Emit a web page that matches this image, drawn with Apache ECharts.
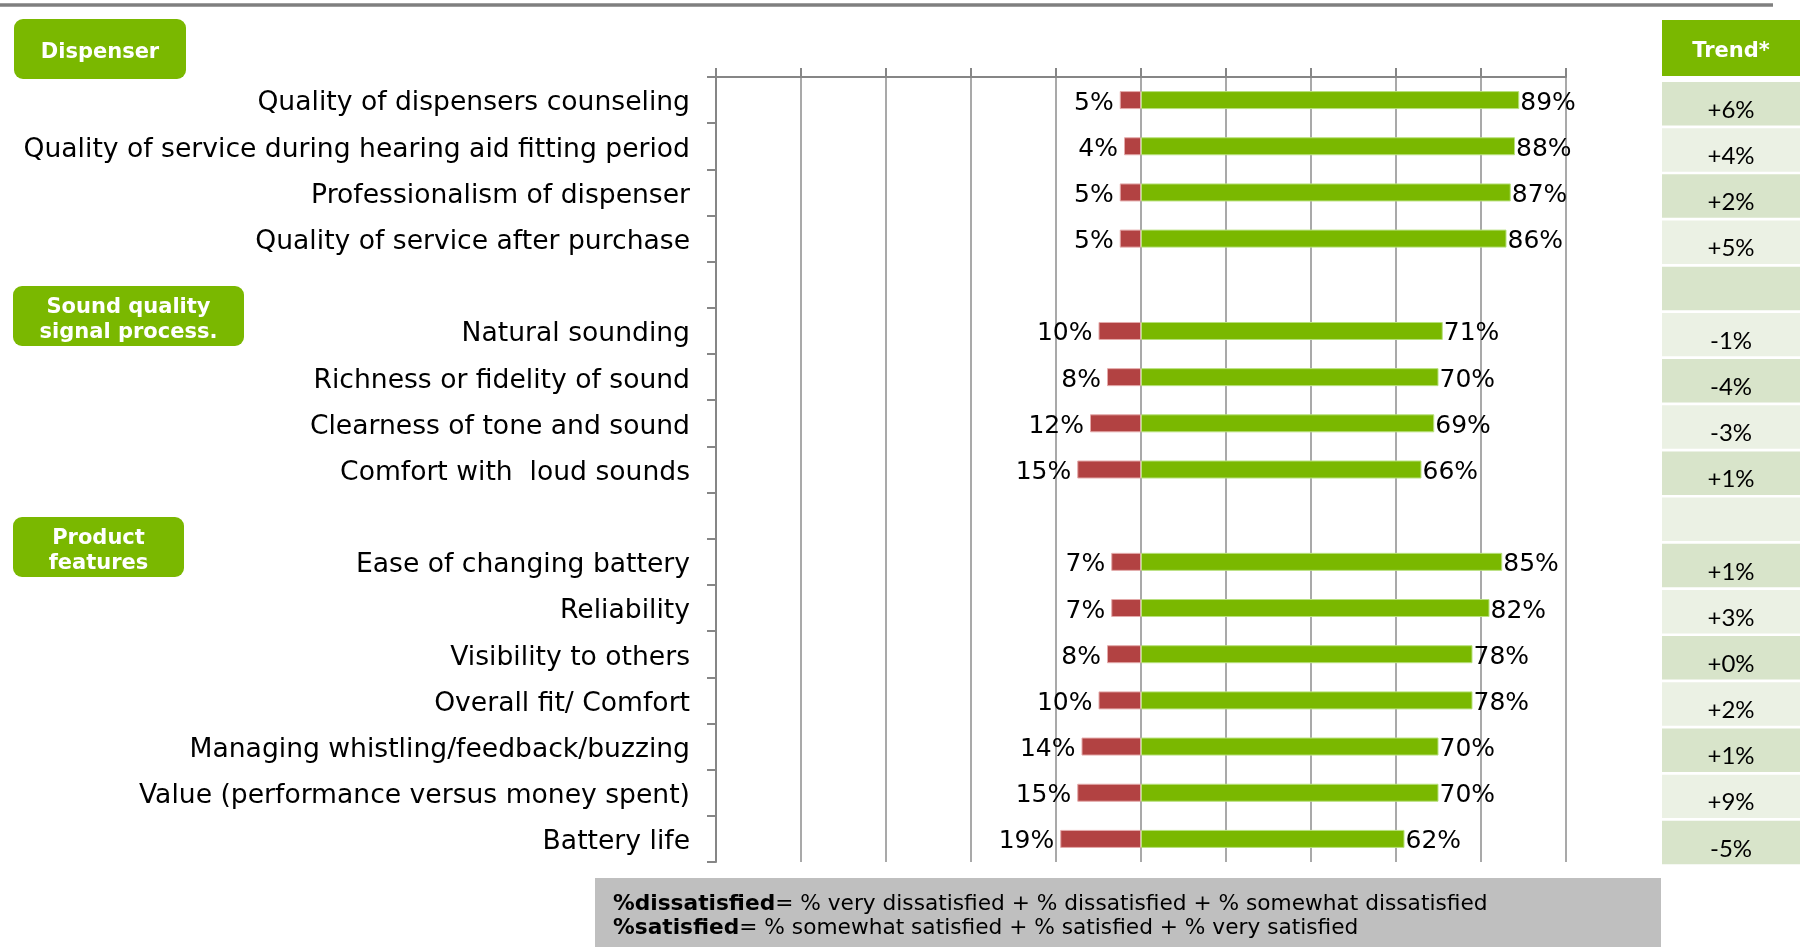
<!DOCTYPE html>
<html>
<head>
<meta charset="utf-8">
<script src="https://cdn.jsdelivr.net/npm/echarts@6/dist/echarts.min.js"></script>
<style>
html,body{margin:0;padding:0;background:#fff;}
#chart{width:1800px;height:947px;}
</style>
</head>
<body>
<div id="chart"></div>
<script>
const categories = [
  'Quality of dispensers counseling',
  'Quality of service during hearing aid fitting period',
  'Professionalism of dispenser',
  'Quality of service after purchase',
  ' ',
  'Natural sounding',
  'Richness or fidelity of sound',
  'Clearness of tone and sound',
  'Comfort with  loud sounds',
  '  ',
  'Ease of changing battery',
  'Reliability',
  'Visibility to others',
  'Overall fit/ Comfort',
  'Managing whistling/feedback/buzzing',
  'Value (performance versus money spent)',
  'Battery life'
];
const dissatisfied = [5, 4, 5, 5, null, 10, 8, 12, 15, null, 7, 7, 8, 10, 14, 15, 19];
const satisfied = [89, 88, 87, 86, null, 71, 70, 69, 66, null, 85, 82, 78, 78, 70, 70, 62];
const trend = [6, 4, 2, 5, null, -1, -4, -3, 1, null, 1, 3, 0, 2, 1, 9, -5];
const groupLabels = ['Dispenser', 'Sound quality\nsignal process.', 'Product\nfeatures'];
const trendHeader = 'Trend*';
const noteBold = ['%dissatisfied', '%satisfied'];
const noteRest = ['= % very dissatisfied + % dissatisfied + % somewhat dissatisfied',
                  '= % somewhat satisfied + % satisfied + % very satisfied'];

const GREEN = '#7AB800';
const RED = '#B24242';
const AXIS = '#868686';
const FONT = 'DejaVu Sans';

const chart = echarts.init(document.getElementById('chart'));

function box(x, y, w, h, text) {
  return {
    type: 'rect',
    shape: {x: x, y: y, width: w, height: h, r: 9},
    style: {fill: GREEN},
    textContent: {
      style: {text: text, fill: '#fff', font: 'bold 21px "DejaVu Sans"', align: 'center', lineHeight: 25}
    },
    textConfig: {position: 'inside', offset: [0, 4]}
  };
}

function fmtTrend(v) {
  if (v === null || v === undefined) return '';
  return (v >= 0 ? '+' : '') + v + '%';
}

const noteRich = {
  b: {font: 'bold 21.7px "DejaVu Sans"', fill: '#000'},
  r: {font: '21.7px "DejaVu Sans"', fill: '#000'}
};

const option = {
  animation: false,
  backgroundColor: '#ffffff',
  graphic: [
    {type: 'line', shape: {x1: 0, y1: 5, x2: 1773, y2: 5}, style: {stroke: '#7f7f7f', lineWidth: 3.5}},
    box(14, 19, 172, 60, groupLabels[0]),
    box(13, 286, 231, 60, groupLabels[1]),
    box(13, 517, 171, 60, groupLabels[2]),
    {
      type: 'rect', shape: {x: 1662, y: 20, width: 138, height: 56},
      style: {fill: GREEN},
      textContent: {style: {text: trendHeader, fill: '#fff', font: 'bold 21px "DejaVu Sans"', align: 'center'}},
      textConfig: {position: 'inside', offset: [0, 4]}
    },
    {type: 'rect', shape: {x: 595, y: 878, width: 1066, height: 69}, style: {fill: '#BFBFBF'}},
    {
      type: 'text', x: 613, y: 904,
      style: {
        text: '{b|' + noteBold[0] + '}{r|' + noteRest[0] + '}',
        verticalAlign: 'middle', align: 'left', rich: noteRich
      }
    },
    {
      type: 'text', x: 613, y: 928,
      style: {
        text: '{b|' + noteBold[1] + '}{r|' + noteRest[1] + '}',
        verticalAlign: 'middle', align: 'left', rich: noteRich
      }
    }
  ],
  grid: [
    {left: 716, right: 234, top: 77, bottom: 85, containLabel: false},
    {left: 1662, right: 0, top: 81, bottom: 81, containLabel: false}
  ],
  xAxis: [
    {
      type: 'value', gridIndex: 0, position: 'top', min: -100, max: 100, interval: 20,
      axisLine: {show: true, onZero: false, lineStyle: {color: AXIS, width: 2}},
      axisTick: {show: true, length: 9, lineStyle: {color: AXIS, width: 2}},
      axisLabel: {show: false},
      splitLine: {show: true, lineStyle: {color: '#8c8c8c', width: 1.5}}
    },
    {type: 'value', gridIndex: 1, min: 0, max: 1, show: false}
  ],
  yAxis: [
    {
      type: 'category', gridIndex: 0, data: categories, inverse: true,
      axisLine: {show: true, onZero: false, lineStyle: {color: AXIS, width: 2}},
      axisTick: {show: true, length: 9, lineStyle: {color: AXIS, width: 2}},
      axisLabel: {
        fontSize: 26.6, fontFamily: FONT, color: '#000', margin: 26,
        formatter: v => '{a|' + v + '}',
        rich: {a: {fontSize: 26.6, fontFamily: FONT, color: '#000', padding: [7, 0, 0, 0]}}
      },
      splitLine: {show: false}
    },
    {type: 'category', gridIndex: 1, data: categories, inverse: true, show: false}
  ],
  series: [
    {
      name: 'dissatisfied', type: 'bar', xAxisIndex: 0, yAxisIndex: 0,
      data: dissatisfied.map(v => v === null ? '-' : -v),
      barWidth: 18, barGap: '-100%',
      itemStyle: {color: RED, borderColor: '#E3AAAA', borderWidth: 1},
      label: {
        show: true, position: 'left', distance: 6, offset: [0, 3],
        fontFamily: FONT, fontSize: 25, color: '#000',
        formatter: p => Math.abs(p.value) + '%'
      }
    },
    {
      name: 'satisfied', type: 'bar', xAxisIndex: 0, yAxisIndex: 0,
      data: satisfied.map(v => v === null ? '-' : v),
      barWidth: 18, barGap: '-100%',
      itemStyle: {color: GREEN, borderColor: '#B8E07E', borderWidth: 1},
      label: {
        show: true, position: 'right', distance: 1, offset: [0, 3],
        fontFamily: FONT, fontSize: 25, color: '#000',
        formatter: p => p.value + '%'
      }
    },
    {
      name: 'trend', type: 'custom', xAxisIndex: 1, yAxisIndex: 1,
      data: trend.map((v, i) => [0, i]),
      encode: {x: 0, y: 1},
      renderItem: function (params, api) {
        const cs = params.coordSys;
        const c = api.coord([0, api.value(1)]);
        const h = api.size([0, 1])[1];
        const i = params.dataIndex;
        return {
          type: 'group',
          children: [
            {
              type: 'rect',
              shape: {x: cs.x, y: c[1] - h / 2 + 1, width: cs.width, height: h - 2.7},
              style: {fill: i % 2 === 0 ? '#D8E4CA' : '#EBF1E4'}
            },
            {
              type: 'text',
              style: {
                x: cs.x + cs.width / 2, y: c[1] + 6,
                text: fmtTrend(trend[i]),
                font: '24px Lato', fill: '#000',
                align: 'center', verticalAlign: 'middle'
              }
            }
          ]
        };
      }
    }
  ]
};
chart.setOption(option);
</script>
</body>
</html>
